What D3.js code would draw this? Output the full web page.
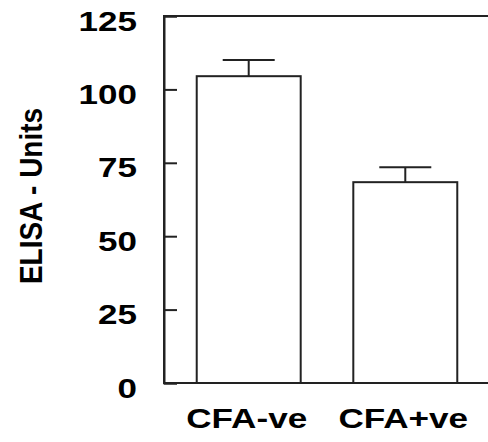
<!DOCTYPE html>
<html>
<head>
<meta charset="utf-8">
<script src="https://cdn.jsdelivr.net/npm/d3@7"></script>
<style>
html,body{margin:0;padding:0;background:#fff;}
svg{display:block;}
text{font-family:"Liberation Sans",Arial,Helvetica,sans-serif;font-weight:bold;fill:#000;}
</style>
</head>
<body>
<script>
const categories = ["CFA-ve", "CFA+ve"];
const values = [104.5, 68.4];
const errors = [5.5, 5.1];
const yTicks = [0, 25, 50, 75, 100, 125];
const yTitle = "ELISA - Units";

const W = 488, H = 442;
const plotLeft = 164, plotRight = 490, plotTop = 16, plotBottom = 383;
const ink = "#222";

const svg = d3.select("body").append("svg").attr("width", W).attr("height", H);

const y = d3.scaleLinear().domain([0, 125]).range([plotBottom, plotTop]);
const x = d3.scaleBand().domain(categories).range([plotLeft, plotRight])
  .paddingInner(0.336).paddingOuter(0.209);

// frame
svg.append("rect").attr("x", plotLeft).attr("y", plotTop)
  .attr("width", plotRight - plotLeft).attr("height", plotBottom - plotTop)
  .attr("fill", "none").attr("stroke", ink).attr("stroke-width", 2);

// y axis with inward ticks
const yAxis = svg.append("g").attr("transform", `translate(${plotLeft},0)`)
  .call(d3.axisLeft(y).tickValues(yTicks).tickSize(-13).tickFormat(d3.format("d")));
yAxis.select(".domain").attr("stroke", ink).attr("stroke-width", 2);
yAxis.selectAll(".tick line").attr("stroke", ink).attr("stroke-width", 2);
yAxis.selectAll(".tick text")
  .attr("x", null).attr("dy", null)
  .attr("text-anchor", "end")
  .attr("font-size", 28)
  .attr("font-family", "Liberation Sans, Arial, sans-serif")
  .attr("font-weight", "bold")
  .attr("fill", "#000")
  .attr("transform", "translate(-27,14) scale(1.25,1)");

// bars
const bars = svg.append("g");
bars.selectAll("rect").data(categories).join("rect")
  .attr("x", d => x(d)).attr("width", x.bandwidth())
  .attr("y", (d, i) => y(values[i]))
  .attr("height", (d, i) => y(0) - y(values[i]))
  .attr("fill", "#fff").attr("stroke", ink).attr("stroke-width", 2);

// error bars (upper only)
const eb = svg.append("g").attr("stroke", ink).attr("stroke-width", 2);
categories.forEach((c, i) => {
  const cx = x(c) + x.bandwidth() / 2;
  eb.append("line").attr("x1", cx).attr("x2", cx)
    .attr("y1", y(values[i])).attr("y2", y(values[i] + errors[i]));
  eb.append("line").attr("x1", cx - 26).attr("x2", cx + 26)
    .attr("y1", y(values[i] + errors[i])).attr("y2", y(values[i] + errors[i]));
});

// x labels
svg.append("g").selectAll("text").data(categories).join("text")
  .attr("text-anchor", "middle")
  .attr("font-size", 27)
  .attr("transform", d => `translate(${x(d) + x.bandwidth() / 2 - 2},428) scale(1.3,1)`)
  .text(d => d);

// y title
svg.append("text")
  .attr("text-anchor", "middle")
  .attr("font-size", 28)
  .attr("transform", "translate(42,196) scale(1.1,1) rotate(-90)")
  .text(yTitle);
</script>
</body>
</html>
